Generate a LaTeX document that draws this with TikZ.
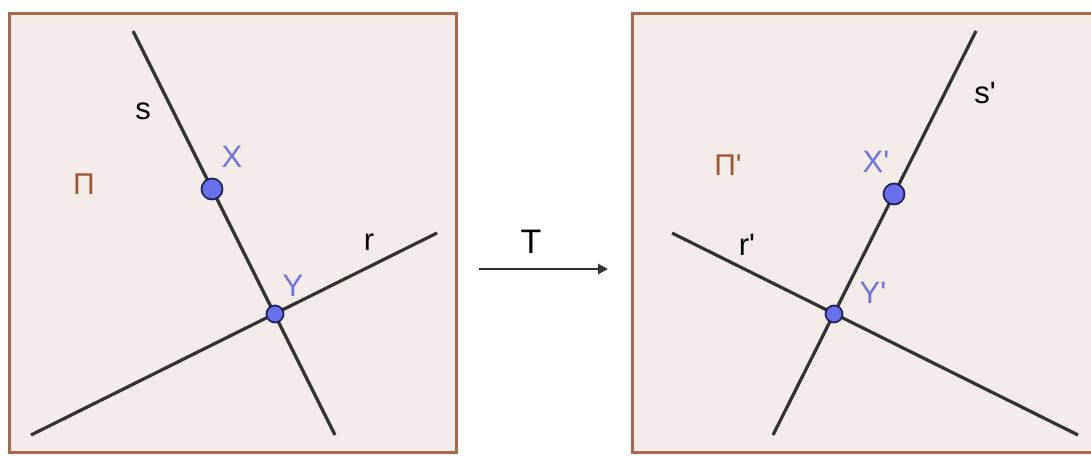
\documentclass[tikz,border=0pt]{standalone}
\usepackage{fontspec}
\setmainfont{Liberation Sans}
\usetikzlibrary{arrows.meta}
\definecolor{frameedge}{RGB}{168,104,76}
\definecolor{framefill}{RGB}{244,236,232}
\definecolor{linegray}{RGB}{50,50,50}
\definecolor{ptfill}{RGB}{104,112,236}
\definecolor{ptedge}{RGB}{28,30,90}
\definecolor{ptlabel}{RGB}{112,116,224}
\definecolor{planecol}{RGB}{160,86,50}
\newcommand{\pr}{\textquotesingle}
\tikzset{
  plane/.style={draw=frameedge,fill=framefill,line width=3pt},
  geoline/.style={draw=linegray,line width=3.2pt},
  bigpt/.style={circle,fill=ptfill,draw=ptedge,line width=1.7pt,minimum size=21pt,inner sep=0pt},
  smallpt/.style={circle,fill=ptfill,draw=ptedge,line width=1.7pt,minimum size=17pt,inner sep=0pt},
  ptlab/.style={text=ptlabel,font=\fontsize{31}{32}\selectfont,inner sep=0pt},
  linelab/.style={text=black,font=\fontsize{31}{32}\selectfont,inner sep=0pt},
  planelab/.style={text=planecol,font=\fontsize{30}{32}\selectfont,inner sep=0pt},
}
\begin{document}
\begin{tikzpicture}[x=1pt,y=-1pt]
\useasboundingbox (0,0) rectangle (1091,455);
\clip (0,0) rectangle (1091,455);
% frames
\path[plane] (9,13) rectangle (456,452);
\path[plane] (632,13) rectangle (1110,452);
% left figure
\coordinate (sA) at (133,31);
\coordinate (sB) at (335,435);
\coordinate (rA) at (31,435);
\coordinate (rB) at (437,233);
\draw[geoline] (sA) -- (sB);
\draw[geoline] (rA) -- (rB);
\node[bigpt] (X) at (212,189) {};
\node[smallpt] (Y) at (275,314) {};
\node[linelab] (slab) at (143,111) {s};
\node[linelab] (rlab) at (369,242) {r};
\node[ptlab] (Xlab) at (232,157) {X};
\node[ptlab] (Ylab) at (293,286) {Y};
\node[planelab] (Pi) at (84,184) {Π};
% arrow
\coordinate (aL) at (479,269);
\coordinate (aR) at (608,269);
\draw[line width=2.6pt,draw=linegray,-{Triangle[length=10pt,width=10pt]}] (aL) -- (aR);
\node[linelab,font=\fontsize{34}{36}\selectfont] (T) at (531,242) {T};
% right figure
\coordinate (spA) at (976,31);
\coordinate (spB) at (773,435);
\coordinate (rpA) at (672,233);
\coordinate (rpB) at (1078,435);
\draw[geoline] (spA) -- (spB);
\draw[geoline] (rpA) -- (rpB);
\node[bigpt] (Xp) at (894,194) {};
\node[smallpt] (Yp) at (834,314) {};
\node[linelab] (splab) at (985,93) {s\pr};
\node[linelab] (rplab) at (747,245) {r\pr};
\node[ptlab] (Xplab) at (876,162) {X\pr};
\node[ptlab] (Yplab) at (873,293) {Y\pr};
\node[planelab] (Pip) at (728,165) {Π\pr};
\end{tikzpicture}
\end{document}
